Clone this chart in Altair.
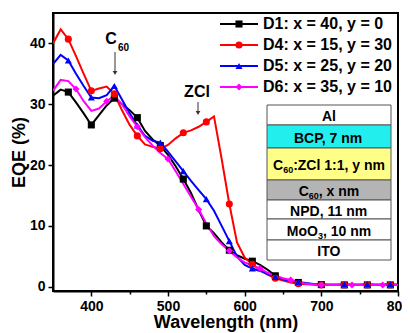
import altair as alt
import pandas as pd

# ---------------- data ----------------
wavelength = list(range(350, 801, 10))

d1 = [31.4, 32.4, 32.0, 30.3, 28.5, 26.6, 28.2, 29.8, 31.0, 30.0,
      29.0, 27.8, 25.6, 24.2, 23.2, 21.7, 19.8, 17.7, 15.4, 12.6,
      10.0, 8.8, 7.3, 6.0, 5.2, 4.6, 4.2, 3.6, 2.8, 1.8,
      1.3, 0.9, 0.7, 0.5, 0.4, 0.35, 0.3, 0.3, 0.3, 0.3,
      0.3, 0.3, 0.3, 0.3, 0.3, 0.3]
d4 = [40.0, 42.3, 40.7, 37.9, 35.0, 32.2, 32.6, 32.9, 31.7, 29.0,
      26.6, 24.8, 23.4, 23.0, 22.7, 23.3, 24.4, 25.3, 25.7, 26.3,
      27.1, 28.0, 21.0, 13.6, 7.3, 4.8, 3.7, 2.8, 2.0, 1.4,
      1.0, 0.7, 0.5, 0.4, 0.35, 0.3, 0.3, 0.3, 0.3, 0.3,
      0.3, 0.3, 0.3, 0.3, 0.3, 0.3]
d5 = [36.6, 38.1, 37.2, 35.0, 33.0, 31.1, 31.0, 31.5, 33.0, 30.8,
      28.5, 26.5, 24.8, 24.0, 23.7, 22.2, 20.6, 19.0, 17.4, 15.9,
      14.4, 12.5, 10.0, 7.5, 5.0, 3.6, 3.0, 2.6, 2.1, 1.6,
      1.2, 1.0, 0.8, 0.6, 0.45, 0.35, 0.35, 0.35, 0.4, 0.35,
      0.35, 0.4, 0.35, 0.35, 0.4, 0.35]
d6 = [32.2, 34.0, 33.8, 32.5, 30.5, 28.9, 29.3, 30.5, 31.4, 30.0,
      28.0, 26.3, 24.6, 23.2, 22.0, 21.0, 19.0, 16.9, 14.8, 12.7,
      10.4, 8.3, 7.0, 5.9, 4.8, 4.0, 3.5, 3.0, 2.3, 1.8,
      1.4, 1.1, 0.8, 0.5, 0.4, 0.3, 0.3, 0.3, 0.3, 0.3,
      0.3, 0.3, 0.3, 0.3, 0.3, 0.3]

series_names = ["D1", "D4", "D5", "D6"]
series_labels = ["D1: x = 40, y = 0", "D4: x = 15, y = 30",
                 "D5: x = 25, y = 20", "D6: x = 35, y = 10"]
series_values = [d1, d4, d5, d6]
series_colors = ["#000000", "#ff0000", "#0000ff", "#ff00ff"]
series_shapes = ["square", "circle", "triangle-up", "diamond"]
marker_every30 = list(range(370, 801, 30))
marker_every40 = list(range(380, 801, 40))
series_markers = [marker_every30, marker_every30, marker_every30, marker_every40]

# layer stack: each label is (main, subscript, rest)
stack_labels = [("Al", "", ""), ("BCP, 7 nm", "", ""), ("C", "60", ":ZCl 1:1, y nm"),
                ("C", "60", ", x nm"), ("NPD, 11 nm", "", ""), ("MoO", "3", ", 10 nm"),
                ("ITO", "", "")]
stack_colors = ["#ffffff", "#22eeee", "#ffff88", "#b4b4b4", "#ffffff", "#ffffff", "#ffffff"]

# ---------------- tables ----------------
rows = []
for name, vals in zip(series_names, series_values):
    for w, v in zip(wavelength, vals):
        rows.append({"series": name, "wl": w, "eqe": v})
df = pd.DataFrame(rows)
mk = []
for name, vals, marks in zip(series_names, series_values, series_markers):
    for w, v in zip(wavelength, vals):
        if w in marks:
            mk.append({"series": name, "wl": w, "eqe": v})
dfm = pd.DataFrame(mk)

FONT = "Liberation Sans"
W, H = 345, 278
xs = alt.Scale(domain=[350, 800], nice=False, zero=False)
ys = alt.Scale(domain=[-0.7, 45], nice=False, zero=False)
color = alt.Color("series:N", scale=alt.Scale(domain=series_names, range=series_colors), legend=None)
shape = alt.Shape("series:N", scale=alt.Scale(domain=series_names, range=series_shapes), legend=None)

xaxis = alt.Axis(values=list(range(400, 801, 50)),
                 labelExpr="datum.value % 100 == 0 ? datum.label : ''",
                 title="Wavelength (nm)", grid=False,
                 tickSize={"condition": {"test": "datum.value % 100 == 0", "value": 5}, "value": 3},
                 labelFontSize=14, labelFont=FONT, labelFontWeight="bold", labelPadding=3,
                 titleFontSize=18, titleFont=FONT, titleFontWeight="bold", titlePadding=0,
                 domainColor="black", domainWidth=2, tickColor="black", tickWidth=1.5,
                 labelColor="black", titleColor="black", labelFlush=False)
yaxis = alt.Axis(values=list(range(0, 41, 5)),
                 labelExpr="datum.value % 10 == 0 ? datum.label : ''",
                 title="EQE (%)", grid=False,
                 tickSize={"condition": {"test": "datum.value % 10 == 0", "value": 5}, "value": 3},
                 labelFontSize=14, labelFont=FONT, labelFontWeight="bold", labelPadding=3,
                 titleFontSize=18, titleFont=FONT, titleFontWeight="bold", titlePadding=1,
                 domainColor="black", domainWidth=2, tickColor="black", tickWidth=1.5,
                 labelColor="black", titleColor="black")

lines = alt.Chart(df).mark_line(strokeWidth=2, clip=True).encode(
    x=alt.X("wl:Q", scale=xs, axis=xaxis),
    y=alt.Y("eqe:Q", scale=ys, axis=yaxis),
    color=color, detail="series:N",
)
points = alt.Chart(dfm).mark_point(filled=True, size=50, opacity=1).encode(
    x=alt.X("wl:Q", scale=xs), y=alt.Y("eqe:Q", scale=ys), color=color, shape=shape,
)

one = alt.Data(values=[{"k": 1}])
layers = [lines, points]

def txt(s, x, y, size, align="left", baseline="alphabetic", weight="bold", col="black"):
    return alt.Chart(one).mark_text(text=s, font=FONT, fontSize=size, fontWeight=weight,
                                    align=align, baseline=baseline, color=col).encode(
        x=alt.value(x), y=alt.value(y))

# rough Arial-bold advance widths (em units) for centring text pieces
ADV = {c: 0.556 for c in "0123456789"}
ADV.update({" ": 0.278, ",": 0.278, ":": 0.333, "m": 0.889, "C": 0.722, "Z": 0.611,
            "l": 0.278, "M": 0.833, "O": 0.778, "o": 0.611, "n": 0.611, "y": 0.556,
            "x": 0.556, "N": 0.722, "P": 0.667, "D": 0.722, "B": 0.722, "A": 0.722,
            "I": 0.278, "T": 0.611})

def tw(s, size):
    return sum(ADV.get(c, 0.6) for c in s) * size

# legend (pixel layout)
for i, (lab, c, sh) in enumerate(zip(series_labels, series_colors, series_shapes)):
    yy = 11 + 21 * i
    layers.append(alt.Chart(one).mark_rule(color=c, strokeWidth=2).encode(
        x=alt.value(167), x2=alt.value(205), y=alt.value(yy)))
    layers.append(alt.Chart(one).mark_point(filled=True, size=50, color=c, shape=sh, opacity=1).encode(
        x=alt.value(186), y=alt.value(yy)))
    layers.append(txt(lab, 210, yy, 16, baseline="middle"))

# annotations C60 and ZCl
layers.append(txt("C", 58, 31, 16, align="center"))
layers.append(txt("60", 65, 38, 10))
layers.append(alt.Chart(one).mark_rule(color="#333", strokeWidth=1).encode(
    x=alt.value(62), y=alt.value(39), y2=alt.value(58)))
layers.append(alt.Chart(one).mark_point(filled=True, size=22, color="#333", shape="triangle-down", opacity=1).encode(
    x=alt.value(62), y=alt.value(60)))
layers.append(txt("ZCl", 144, 84, 16, align="center"))
layers.append(alt.Chart(one).mark_rule(color="#333", strokeWidth=1).encode(
    x=alt.value(145), y=alt.value(89), y2=alt.value(98)))
layers.append(alt.Chart(one).mark_point(filled=True, size=22, color="#333", shape="triangle-down", opacity=1).encode(
    x=alt.value(145), y=alt.value(100)))

# layer stack table
edges = [92, 112, 135, 167, 187, 206, 227, 247]
tl, tr = 214, 338
FS, SS = 14, 9
for i, ((main, sub, rest), c) in enumerate(zip(stack_labels, stack_colors)):
    layers.append(alt.Chart(one).mark_rect(fill=c, stroke="#555555", strokeWidth=1).encode(
        x=alt.value(tl), x2=alt.value(tr), y=alt.value(edges[i]), y2=alt.value(edges[i + 1])))
    mid = (edges[i] + edges[i + 1]) / 2
    base = mid + 6
    total = tw(main, FS) + tw(sub, SS) + tw(rest, FS)
    x0 = (tl + tr) / 2 - total / 2
    layers.append(txt(main, x0, base, FS))
    if sub:
        x1 = x0 + tw(main, FS)
        layers.append(txt(sub, x1, base + 3, SS))
        layers.append(txt(rest, x1 + tw(sub, SS), base, FS))

chart = alt.layer(*layers).properties(
    width=W, height=H,
    autosize=alt.AutoSizeParams(type="none"),
    padding={"left": 45, "top": 5, "right": 4, "bottom": 42},
).configure_view(stroke="black", strokeWidth=2)

chart.save("out.html", embed_options={"renderer": "svg", "actions": False})
